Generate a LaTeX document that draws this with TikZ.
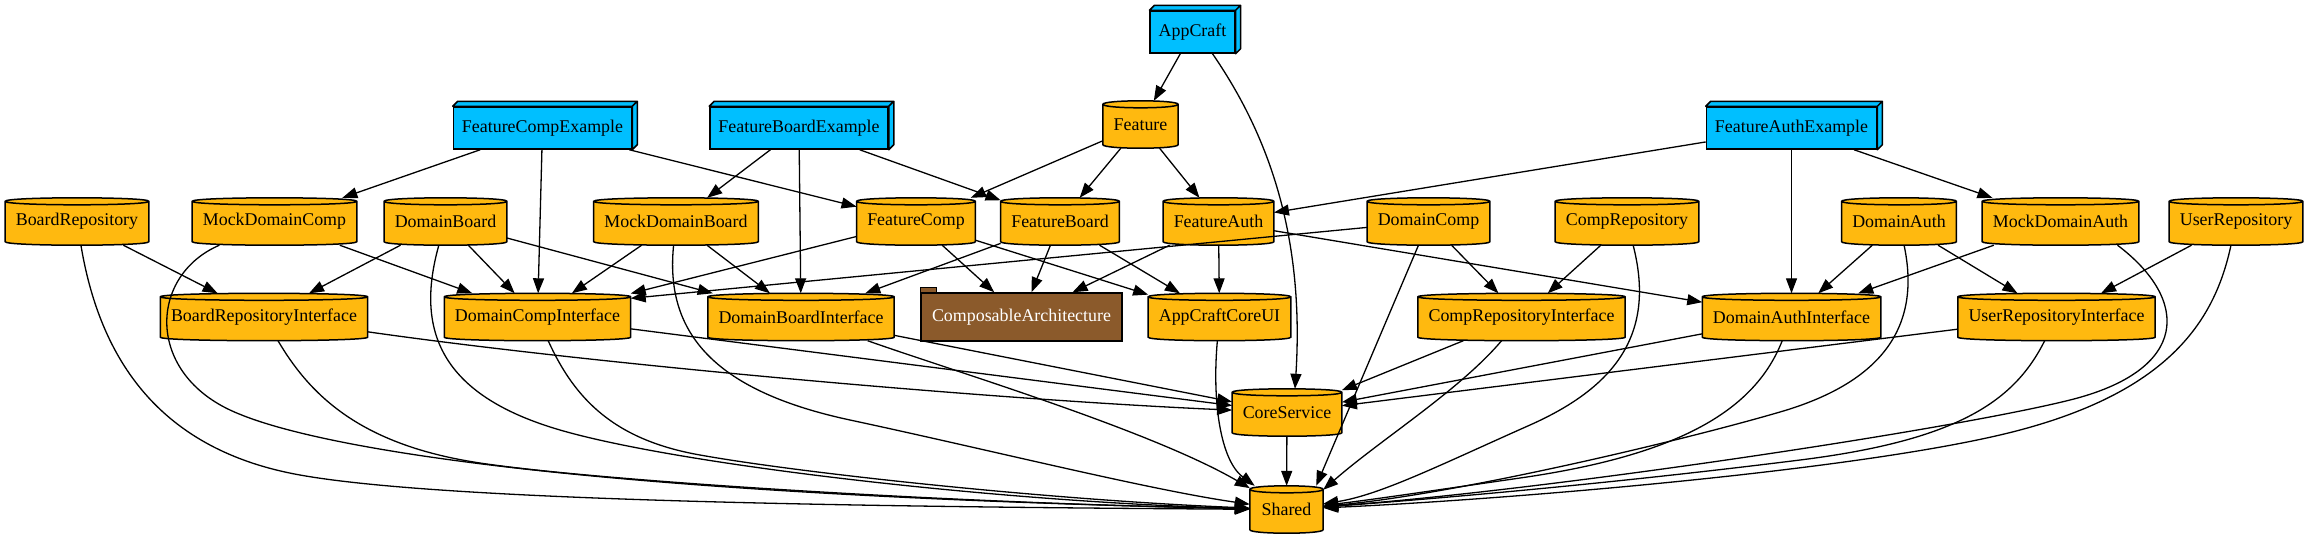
\documentclass[tikz,border=0pt]{standalone}
\usepackage{fontspec}
\setmainfont{Liberation Serif}
\usetikzlibrary{arrows.meta,calc}
\pgfdeclarelayer{bg}
\pgfsetlayers{bg,main}
\definecolor{gold}{HTML}{FFB90F}
\definecolor{skyb}{HTML}{00BFFF}
\definecolor{tanbrown}{HTML}{8B5A2B}
\newcommand\gvfont{\rmfamily\fontsize{17.9}{20}\selectfont}
\newcommand\drawcyl[1]{\path[draw=black,fill=gold,line width=1.5pt]
  let \p1=(#1.north west), \p2=(#1.south east) in
  ({\x1},{\y1-3.5pt}) -- ({\x1},{\y2+3.5pt})
  .. controls ({\x1},{\y2-1.1667pt}) and ({\x2},{\y2-1.1667pt}) .. ({\x2},{\y2+3.5pt})
  -- ({\x2},{\y1-3.5pt})
  .. controls ({\x2},{\y1+1.1667pt}) and ({\x1},{\y1+1.1667pt}) .. cycle
  ({\x1},{\y1-3.5pt}) .. controls ({\x1},{\y1-8.1667pt}) and ({\x2},{\y1-8.1667pt}) .. ({\x2},{\y1-3.5pt});}
\newcommand\drawboxthree[1]{\path[draw=black,fill=skyb,line width=1.5pt,line join=round]
  (#1.north west) -- ++(5pt,5pt) -- ([shift={(5pt,5pt)}]#1.north east)
  -- ([shift={(5pt,5pt)}]#1.south east) -- (#1.south east) -- (#1.north east) -- cycle
  (#1.north east) -- ++(5pt,5pt);}
\tikzset{
  cyl/.style={font=\gvfont, text=black, inner xsep=10.5pt, inner ysep=0pt, minimum height=47pt},
  boxthree/.style={draw=black, fill=skyb, line width=1.5pt, font=\gvfont, text=black, inner xsep=8.5pt, inner ysep=0pt, minimum height=42pt},
  tabnode/.style={draw=black, fill=tanbrown, line width=1.5pt, font=\gvfont, text=white, inner xsep=11pt, inner ysep=0pt, minimum height=48pt},
  edge/.style={line width=1.3pt, -{Triangle[length=15pt,width=11pt]}}
}
\begin{document}
\begin{tikzpicture}[x=1pt,y=1pt]
\useasboundingbox (0,0) rectangle (2309,-539);
\begin{pgfonlayer}{bg}
\fill[white] (0,0) rectangle (2309,-539);
\end{pgfonlayer}
% nodes
\node[boxthree] (AppCraft) at (1192.5,-32) {AppCraft};
\node[cyl] (Feature) at (1140.5,-124.5) {Feature};
\node[boxthree] (FCE) at (542.5,-128) {FeatureCompExample};
\node[boxthree] (FBE) at (799,-128) {FeatureBoardExample};
\node[boxthree] (FAE) at (1791.5,-128) {FeatureAuthExample};
\node[cyl] (BoardRepository) at (77,-221.5) {BoardRepository};
\node[cyl] (MockDomainComp) at (274.5,-221.5) {MockDomainComp};
\node[cyl] (DomainBoard) at (445.5,-221.5) {DomainBoard};
\node[cyl] (MockDomainBoard) at (676,-221.5) {MockDomainBoard};
\node[cyl] (FeatureComp) at (916,-221.5) {FeatureComp};
\node[cyl] (FeatureBoard) at (1060,-221.5) {FeatureBoard};
\node[cyl] (FeatureAuth) at (1218.5,-221.5) {FeatureAuth};
\node[cyl] (DomainComp) at (1428.5,-221.5) {DomainComp};
\node[cyl] (CompRepository) at (1627,-221.5) {CompRepository};
\node[cyl] (DomainAuth) at (1899,-221.5) {DomainAuth};
\node[cyl] (MockDomainAuth) at (2060.5,-221.5) {MockDomainAuth};
\node[cyl] (UserRepository) at (2236,-221.5) {UserRepository};
\node[cyl] (BRI) at (264,-317) {BoardRepositoryInterface};
\node[cyl] (DCI) at (537.5,-317) {DomainCompInterface};
\node[cyl] (DBI) at (801,-317) {DomainBoardInterface};
\node[tabnode] (CA) at (1021.5,-317) {ComposableArchitecture};
\node[cyl] (ACUI) at (1219.5,-317) {AppCraftCoreUI};
\node[cyl] (CRI) at (1521.5,-317) {CompRepositoryInterface};
\node[cyl] (DAI) at (1791.5,-317) {DomainAuthInterface};
\node[cyl] (URI) at (2056.5,-317) {UserRepositoryInterface};
\node[cyl] (CoreService) at (1287,-412.5) {CoreService};
\node[cyl, minimum width=73pt] (Shared) at (1286.5,-509.5) {Shared};
% shapes
\begin{pgfonlayer}{bg}
\foreach \nm in {Feature,BoardRepository,MockDomainComp,DomainBoard,MockDomainBoard,FeatureComp,FeatureBoard,FeatureAuth,DomainComp,CompRepository,DomainAuth,MockDomainAuth,UserRepository,BRI,DCI,DBI,ACUI,CRI,DAI,URI,CoreService,Shared}{\drawcyl{\nm}}
\end{pgfonlayer}
\foreach \nm in {AppCraft,FCE,FBE,FAE}{\drawboxthree{\nm}}
\draw[fill=tanbrown, line width=1.5pt] (CA.north west) rectangle ++(16pt,5pt);
% edges
\draw[edge] (AppCraft) -- (Feature);
\draw[edge] ([xshift=20pt]AppCraft.south) .. controls (1265,-130) and (1305,-230) .. ([xshift=8pt]CoreService.north);
\draw[edge] (Feature) -- (FeatureComp);
\draw[edge] (Feature) -- (FeatureBoard);
\draw[edge] (Feature) -- (FeatureAuth);
\draw[edge] (FCE) -- (MockDomainComp);
\draw[edge] (FCE) -- (DCI);
\draw[edge] (FCE) -- (FeatureComp);
\draw[edge] (FBE) -- (MockDomainBoard);
\draw[edge] (FBE) -- (DBI);
\draw[edge] (FBE) -- (FeatureBoard);
\draw[edge] (FAE) -- (FeatureAuth);
\draw[edge] (FAE) -- (DAI);
\draw[edge] (FAE) -- (MockDomainAuth);
\draw[edge] (BoardRepository) -- (BRI);
\draw[edge] (MockDomainComp) -- (DCI);
\draw[edge] (DomainBoard) -- (BRI);
\draw[edge] (DomainBoard) -- (DCI);
\draw[edge] (DomainBoard) -- (DBI);
\draw[edge] (MockDomainBoard) -- (DCI);
\draw[edge] (MockDomainBoard) -- (DBI);
\draw[edge] (FeatureComp) -- (DCI);
\draw[edge] (FeatureComp) -- (CA);
\draw[edge] (FeatureComp) -- (ACUI);
\draw[edge] (FeatureBoard) -- (DBI);
\draw[edge] (FeatureBoard) -- (CA);
\draw[edge] (FeatureBoard) -- (ACUI);
\draw[edge] (FeatureAuth) -- (CA);
\draw[edge] (FeatureAuth) -- (ACUI);
\draw[edge] (FeatureAuth) -- (DAI);
\draw[edge] (DomainComp) -- ([yshift=-5pt]DCI.north east);
\draw[edge] (DomainComp) -- (CRI);
\draw[edge] (DomainComp) -- ([xshift=-7pt]Shared.north east);
\draw[edge] (CompRepository) -- (CRI);
\draw[edge] (DomainAuth) -- (DAI);
\draw[edge] (DomainAuth) -- (URI);
\draw[edge] (MockDomainAuth) -- (DAI);
\draw[edge] (UserRepository) -- (URI);
\draw[edge] (BRI) .. controls (600,-365) and (1000,-400) .. (CoreService);
\draw[edge] (DCI) -- (CoreService);
\draw[edge] (DBI) -- (CoreService);
\draw[edge] (CRI) -- (CoreService);
\draw[edge] (DAI) -- (CoreService);
\draw[edge] (URI) -- (CoreService);
\draw[edge] (CoreService) -- (Shared);
% curves into Shared
\draw[edge] (BoardRepository) .. controls (100,-360) and (160,-450) .. (300,-475) .. controls (450,-502) and (900,-507) .. (Shared);
\draw[edge] (MockDomainComp) .. controls (150,-275) and (145,-370) .. (230,-410) .. controls (315,-450) and (600,-495) .. (Shared);
\draw[edge] (BRI) .. controls (310,-395) and (360,-445) .. (480,-463) .. controls (600,-481) and (950,-503) .. (Shared);
\draw[edge] (DomainBoard) .. controls (415,-330) and (440,-395) .. (560,-430) .. controls (680,-465) and (1000,-502) .. (Shared);
\draw[edge] (DCI) .. controls (575,-400) and (615,-440) .. (700,-455) .. controls (800,-473) and (1050,-500) .. (Shared);
\draw[edge] (MockDomainBoard) .. controls (665,-330) and (710,-390) .. (850,-420) .. controls (990,-450) and (1150,-490) .. (Shared);
\draw[edge] (DBI) .. controls (950,-370) and (1150,-430) .. (Shared);
\draw[edge] (ACUI) .. controls (1212,-400) and (1220,-460) .. (Shared);
\draw[edge] (CRI) .. controls (1460,-390) and (1380,-440) .. ([yshift=-4pt]Shared.north east);
\draw[edge] (CompRepository) .. controls (1655,-330) and (1620,-385) .. (1530,-425) .. controls (1440,-465) and (1380,-495) .. (Shared);
\draw[edge] (DAI) .. controls (1755,-410) and (1680,-455) .. (1520,-478) .. controls (1430,-491) and (1370,-500) .. (Shared);
\draw[edge] (DomainAuth) .. controls (1920,-320) and (1890,-380) .. (1780,-412) .. controls (1670,-444) and (1450,-495) .. (Shared);
\draw[edge] (URI) .. controls (2015,-400) and (1960,-440) .. (1800,-460) .. controls (1600,-485) and (1420,-500) .. (Shared);
\draw[edge] ([xshift=57pt]MockDomainAuth.south) .. controls (2190,-300) and (2190,-370) .. (2070,-400) .. controls (1950,-430) and (1550,-490) .. (Shared);
\draw[edge] (UserRepository) .. controls (2215,-320) and (2170,-390) .. (2020,-430) .. controls (1870,-470) and (1500,-500) .. (Shared);
\end{tikzpicture}
\end{document}
